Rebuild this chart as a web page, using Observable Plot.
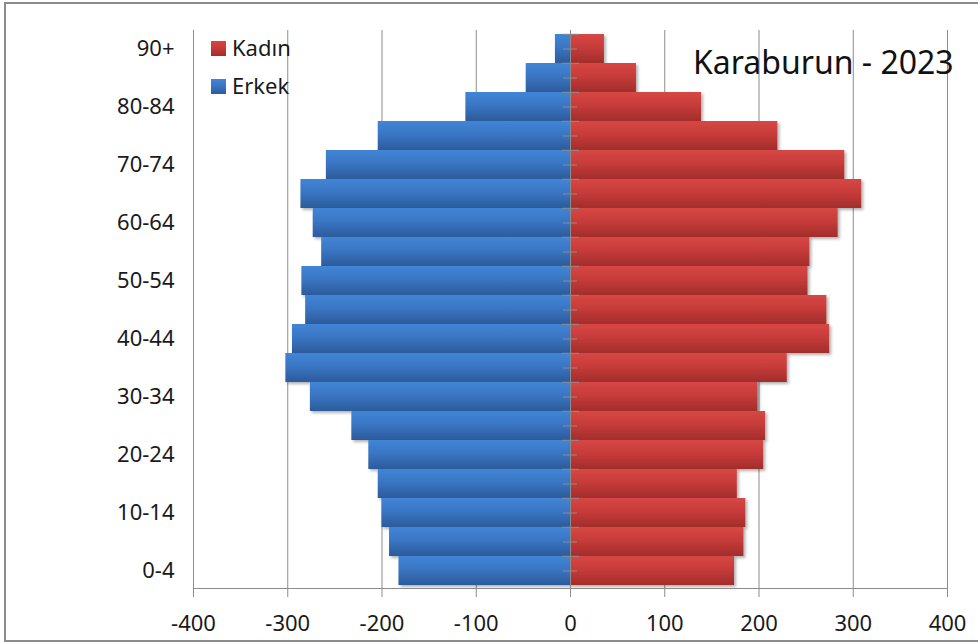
<!DOCTYPE html>
<html><head><meta charset="utf-8">
<script src="https://cdn.jsdelivr.net/npm/d3@7"></script>
<script src="https://cdn.jsdelivr.net/npm/@observablehq/plot@0.6"></script>
<style>
body{margin:0;background:#fff;}
#wrap{position:relative;width:978px;height:642px;overflow:hidden;background:#fff;}
#border{position:absolute;left:4px;top:2px;width:1100px;height:636px;border:2px solid #8c8c8c;pointer-events:none;z-index:2;}
</style></head><body><div id="wrap"><div id="border"></div></div>
<script>
const ages = ["0-4","5-9","10-14","15-19","20-24","25-29","30-34","35-39","40-44","45-49","50-54","55-59","60-64","65-69","70-74","75-79","80-84","85-89","90+"];
const erkek = [182, 192, 200, 204, 214, 232, 276, 302, 295, 281, 285, 264, 273, 286, 259, 204, 111, 47, 16];
const kadin = [174, 184, 186, 177, 205, 207, 199, 230, 275, 272, 252, 254, 284, 309, 291, 220, 139, 70, 36];
const xTicks = [-400, -300, -200, -100, 0, 100, 200, 300, 400];
const ageLabels = ["0-4","10-14","20-24","30-34","40-44","50-54","60-64","70-74","80-84","90+"];
const titleText = "Karaburun - 2023";
const legendItems = ["Kadın", "Erkek"];

const rowsE = ages.map((a, i) => ({age: a, sex: "Erkek", value: -erkek[i]}));
const rowsK = ages.map((a, i) => ({age: a, sex: "Kadın", value: kadin[i]}));

const gray = "#8c8c8c";
const chart = Plot.plot({
  width: 978, height: 642,
  marginLeft: 193, marginRight: 31, marginTop: 30, marginBottom: 54,
  style: {fontFamily: "'Noto Sans', sans-serif", fontSize: "22px", color: "#1a1a1a", background: "transparent"},
  x: {domain: [-400, 400], label: null},
  y: {domain: ages.slice().reverse(), padding: 0, label: null},
  marks: [
    Plot.ruleX(xTicks, {stroke: gray}),
    Plot.barX(rowsE, {x: "value", y: "age", fill: "url(#gradE)"}),
    Plot.barX(rowsK, {x: "value", y: "age", fill: "url(#gradK)"}),
    Plot.ruleX([0], {stroke: gray}),
    Plot.ruleY(ages, {y: d => d, x1: 0, x2: 0, insetLeft: -7, insetRight: -7, stroke: gray}),
    Plot.ruleY(ages, {y: d => d, x1: 0, x2: 0, insetLeft: -8, insetRight: -9, dy: -14.7, stroke: gray}),
    Plot.frame({anchor: "bottom", stroke: gray}),
    Plot.axisX({ticks: xTicks, tickSize: 9, tickPadding: 18, stroke: gray, fill: "#1a1a1a", fontSize: 22, tickFormat: d => String(d), label: null}),
    Plot.axisY({ticks: ageLabels, tickSize: 0, tickPadding: 19, fontSize: 22, fill: "#1a1a1a", label: null})
  ]
});

const svg = d3.select(chart);
const defs = svg.insert("defs", ":first-child");
function grad(id, stops) {
  const g = defs.append("linearGradient").attr("id", id).attr("x1", 0).attr("y1", 0).attr("x2", 0).attr("y2", 1);
  stops.forEach(([o, c]) => g.append("stop").attr("offset", o).attr("stop-color", c));
}
grad("gradE", [[0, "#4285d6"], [0.45, "#3a76c4"], [1, "#2c5b9a"]]);
grad("gradK", [[0, "#d64744"], [0.45, "#c73c3a"], [1, "#a22d2b"]]);
const f = defs.append("filter").attr("id", "shadow").attr("x", "-5%").attr("y", "-5%").attr("width", "110%").attr("height", "115%");
f.append("feDropShadow").attr("dx", 2).attr("dy", 2).attr("stdDeviation", 1.5).attr("flood-color", "#000").attr("flood-opacity", 0.3);
svg.selectAll("g[aria-label='bar']").attr("filter", "url(#shadow)");

// title
svg.append("text").attr("x", 693).attr("y", 74).attr("font-size", 32).attr("fill", "#111")
  .attr("text-anchor", "start").attr("font-family", "'Noto Sans', sans-serif").text(titleText);
// legend
const lg = svg.append("g").attr("font-family", "'Noto Sans', sans-serif").attr("font-size", 22)
  .attr("fill", "#1a1a1a").attr("text-anchor", "start");
legendItems.forEach((name, i) => {
  lg.append("rect").attr("x", 211).attr("y", 41 + i * 38).attr("width", 15).attr("height", 15)
    .attr("fill", name === "Kadın" ? "url(#gradK)" : "url(#gradE)");
  lg.append("text").attr("x", 232).attr("y", 56 + i * 38).text(name);
});

document.getElementById("wrap").appendChild(chart);
</script></body></html>
